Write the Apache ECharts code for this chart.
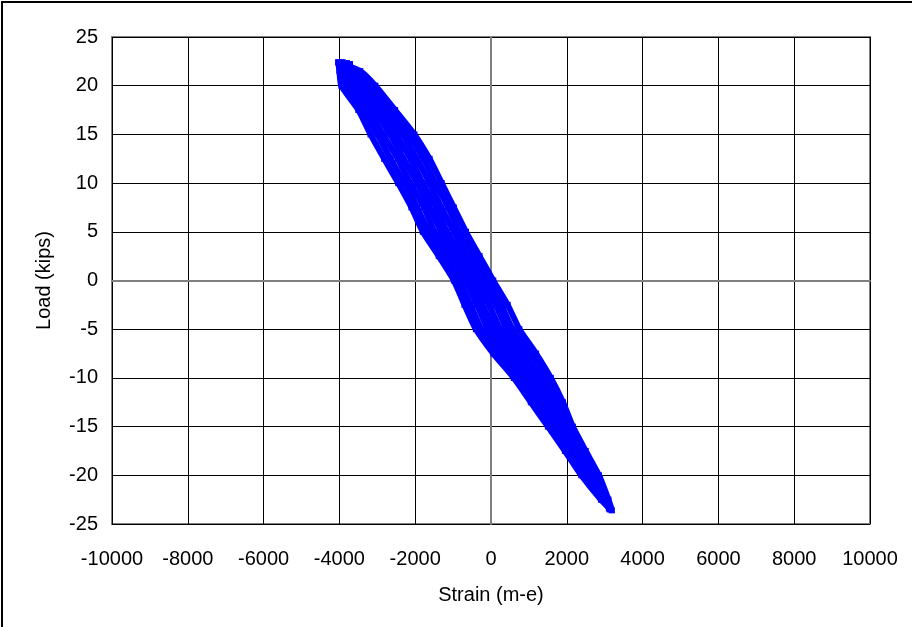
<!DOCTYPE html>
<html>
<head>
<meta charset="utf-8">
<title>Load vs Strain</title>
<script src="https://cdn.jsdelivr.net/npm/echarts@6/dist/echarts.min.js"></script>
<style>
  html, body { margin: 0; padding: 0; background: #fff; }
  #main { width: 912px; height: 627px; }
</style>
</head>
<body>
<div id="main"></div>
<script>
var loadLevels = [21.5, 20, 17.5, 15, 12.5, 10, 7.5, 5, 2.5, 0, -2.5, -5, -7.5, -10, -12.5, -15, -17.5, -20, -22.5];

// strain (m-e) on each branch, left edge of the band -> right edge
var branch0 = [-4000, -3950, -3500, -3180, -2820, -2450, -2100, -1800, -1380, -980, -700, -400, 60, 600, 1050, 1500, 1950, 2380, 2900];
var branch1 = [-3930, -3830, -3380, -3000, -2650, -2280, -1950, -1640, -1230, -840, -540, -250, 210, 730, 1160, 1590, 2030, 2440, 2930];
var branch2 = [-3850, -3700, -3250, -2850, -2460, -2130, -1770, -1490, -1060, -680, -370, -80, 380, 890, 1300, 1700, 2100, 2520, 2960];
var branch3 = [-3780, -3560, -3100, -2660, -2310, -1950, -1630, -1310, -930, -540, -230, 80, 520, 1010, 1410, 1770, 2190, 2570, 2980];
var branch4 = [-3700, -3450, -2990, -2510, -2120, -1800, -1450, -1160, -760, -380, -50, 250, 700, 1170, 1540, 1880, 2260, 2660, 3020];
var branch5 = [-3620, -3300, -2830, -2330, -1960, -1620, -1310, -980, -620, -240, 120, 420, 850, 1290, 1650, 1960, 2350, 2710, 3040];
var branch6 = [-3540, -3180, -2680, -2180, -1780, -1470, -1130, -830, -450, -90, 270, 570, 1030, 1450, 1790, 2070, 2420, 2790, 3070];
var branch7 = [-3450, -3050, -2530, -2020, -1620, -1300, -980, -660, -300, 60, 440, 750, 1190, 1580, 1900, 2160, 2500, 2850, 3100];

// peak points of each cycle [strain, load]
var topPoints = [[-4030, 22.4], [-3920, 22.4], [-3800, 22.3], [-3720, 22.2]];
var bottomPoints = [[3190, -23.6], [3160, -23.5], [3130, -23.5], [3110, -23.4]];

// each cycle goes down one branch and back up its partner
var cycles = [[branch0, branch7], [branch1, branch6], [branch2, branch5], [branch3, branch4]];

function buildCycle(i) {
    var down = cycles[i][0], up = cycles[i][1];
    var pts = [topPoints[i]];
    for (var k = 0; k < loadLevels.length; k++) {
        pts.push([down[k], loadLevels[k]]);
    }
    pts.push(bottomPoints[i]);
    for (var k = loadLevels.length - 1; k >= 0; k--) {
        pts.push([up[k], loadLevels[k]]);
    }
    pts.push(topPoints[i]);
    return pts;
}

var series = [];
for (var i = 0; i < cycles.length; i++) {
    series.push({
        type: 'line',
        data: buildCycle(i),
        symbol: 'rect',
        symbolSize: 6,
        smooth: 0.2,
        lineStyle: { color: '#0000ff', width: 6 },
        itemStyle: { color: '#0000ff' },
        animation: false
    });
}

var labelFont = { fontFamily: 'Liberation Sans', fontSize: 20, color: '#000' };

var myChart = echarts.init(document.getElementById('main'));
myChart.setOption({
    animation: false,
    graphic: [{
        type: 'rect',
        shape: { x: 2, y: 2, width: 1000, height: 1000 },
        style: { fill: 'none', stroke: '#000', lineWidth: 2 }
    }],
    grid: {
        left: 112, top: 37, right: 42, bottom: 103,
        show: true, borderColor: '#808080', borderWidth: 2
    },
    xAxis: {
        type: 'value', min: -10000, max: 10000, interval: 2000,
        name: 'Strain (m-e)', nameLocation: 'middle', nameGap: 61,
        nameTextStyle: labelFont,
        axisLine: { lineStyle: { color: '#808080', width: 2 } },
        axisTick: { show: false },
        axisLabel: Object.assign({ margin: 25, formatter: function (v) { return String(v); } }, labelFont),
        splitLine: { lineStyle: { color: '#000', width: 1 } }
    },
    yAxis: {
        type: 'value', min: -25, max: 25, interval: 5,
        name: 'Load (kips)', nameLocation: 'middle', nameGap: 58,
        nameTextStyle: labelFont,
        axisLine: { lineStyle: { color: '#808080', width: 2 } },
        axisTick: { show: false },
        axisLabel: Object.assign({ margin: 14 }, labelFont),
        splitLine: { lineStyle: { color: '#000', width: 1 } }
    },
    series: series
});
</script>
</body>
</html>
